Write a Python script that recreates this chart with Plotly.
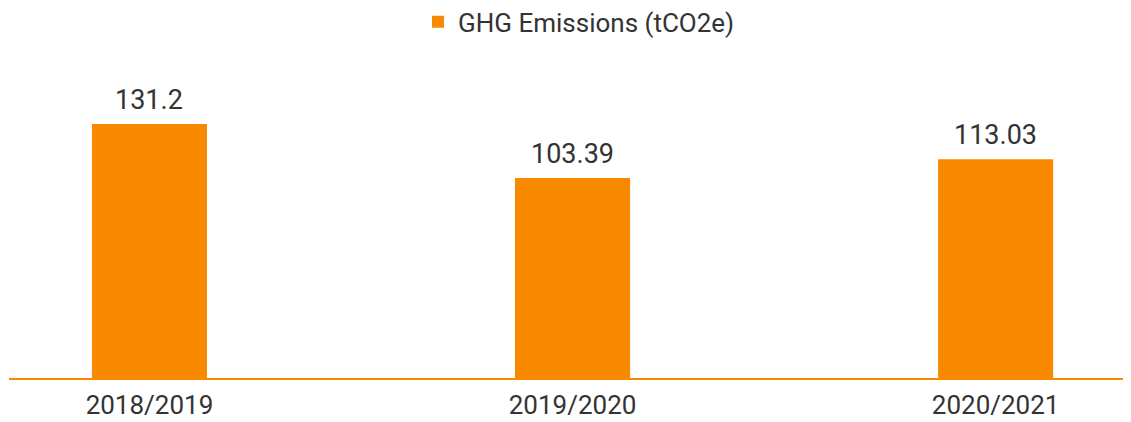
import plotly.graph_objects as go

categories = ["2018/2019", "2019/2020", "2020/2021"]
values = [131.2, 103.39, 113.03]
labels = ["131.2", "103.39", "113.03"]
series_name = "GHG Emissions (tCO2e)"

ORANGE = "#F98A00"
TEXT = "#333333"
FONT = "Roboto"

fig = go.Figure()
fig.add_trace(go.Bar(
    x=categories, y=values, name=series_name,
    marker=dict(color=ORANGE, line=dict(width=0)),
    width=0.272, showlegend=True,
))

for c, v, t in zip(categories, values, labels):
    fig.add_annotation(x=c, y=v, text=t, showarrow=False, yanchor="bottom",
                       yshift=6, font=dict(family=FONT, size=27, color=TEXT))

fig.update_layout(
    width=1131, height=422,
    margin=dict(l=1, r=8, t=52, b=52),
    paper_bgcolor="white", plot_bgcolor="white",
    font=dict(family=FONT, size=26, color=TEXT),
    showlegend=True,
    legend=dict(orientation="h", x=0.508, xanchor="center", y=0.967, yanchor="middle",
                yref="container",
                font=dict(family=FONT, size=26, color=TEXT), itemwidth=30),
    xaxis=dict(type="category", range=[-0.332, 2.32], showgrid=False,
               showline=True, linecolor=ORANGE, linewidth=2, ticks="",
               ticklabelstandoff=3,
               tickfont=dict(family=FONT, size=26, color=TEXT), fixedrange=True),
    yaxis=dict(range=[0, 164.3], visible=False, showgrid=False, zeroline=False),
)

fig.write_html("out.html")
